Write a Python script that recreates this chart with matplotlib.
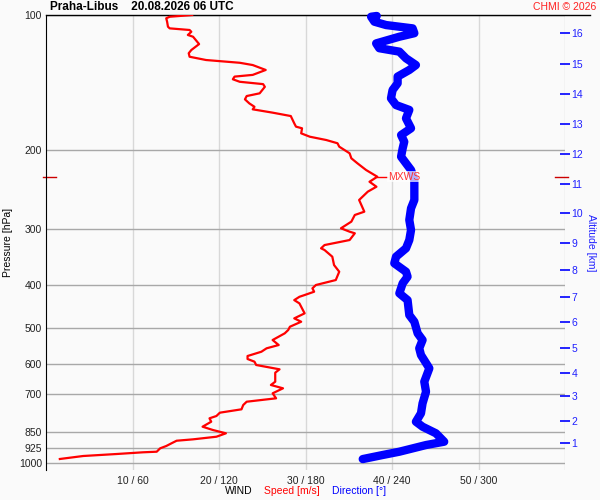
import numpy as np
import matplotlib.pyplot as plt
from matplotlib.lines import Line2D

plt.rcParams['font.family'] = ['Liberation Sans', 'DejaVu Sans']

# wind speed profile [m/s] vs pressure [hPa]
speed_p = [100.0, 100.9, 101.7, 103.5, 106.2, 107.1, 108.0, 109.0, 110.8, 111.8,
           116.1, 119.7, 121.7, 123.9, 126.0, 127.8, 129.3, 132.6, 136.0, 137.2,
           139.1, 140.9, 142.6, 144.6, 149.5, 151.6, 154.2, 157.4, 160.2, 162.3,
           165.1, 168.0, 174.4, 177.4, 178.9, 183.6, 186.8, 190.0, 193.2, 196.6,
           203.4, 208.7, 214.1, 221.6, 229.4, 235.4, 241.5, 247.7, 258.5, 274.5,
           279.2, 288.9, 298.9, 304.2, 306.7, 317.5, 325.8, 331.3, 334.2, 345.9,
           361.0, 373.6, 389.9, 400.0, 406.9, 414.0, 421.1, 424.9, 432.2, 439.6,
           454.9, 462.6, 474.7, 483.0, 495.5, 504.0, 512.6, 530.5, 544.3, 553.6,
           563.4, 575.9, 584.8, 592.9, 603.1, 616.6, 627.4, 657.1, 668.3, 679.8,
           697.5, 715.6, 728.2, 740.7, 757.2, 770.4, 783.7, 793.0, 807.0, 827.9,
           842.1, 856.5, 871.6, 883.4, 889.7, 901.7, 914.2, 925.0, 941.3, 944.2,
           952.4, 962.3, 977.2]
speed = [16.9, 14.3, 13.9, 14.0, 14.1, 14.3, 16.6, 16.8, 16.4, 17.0,
         17.7, 16.8, 16.5, 16.6, 18.5, 22.4, 23.9, 25.4, 23.9, 21.8,
         21.6, 22.4, 25.1, 25.3, 24.7, 23.2, 23.0, 23.5, 24.1, 23.9,
         26.2, 28.3, 28.7, 28.9, 29.6, 29.5, 30.5, 32.4, 33.7, 33.9,
         35.1, 35.3, 36.0, 37.0, 38.3, 37.4, 38.2, 37.2, 36.2, 36.8,
         35.7, 35.3, 34.1, 35.1, 35.7, 35.1, 32.2, 31.8, 32.2, 33.1,
         33.3, 33.9, 33.5, 31.2, 30.8, 31.0, 29.9, 29.3, 28.7, 29.3,
         29.7, 29.9, 28.7, 29.5, 28.2, 28.0, 27.6, 26.2, 26.9, 25.5,
         24.9, 23.3, 23.3, 24.1, 24.3, 27.0, 26.5, 26.5, 26.0, 27.4,
         26.2, 26.6, 23.2, 22.8, 22.6, 20.1, 19.7, 18.9, 19.1, 18.1,
         19.3, 20.8, 19.7, 17.0, 15.1, 14.5, 13.9, 13.2, 12.8, 11.2,
         8.2, 4.3, 1.6]

# wind direction profile [deg] vs pressure [hPa]
dir_p = [100.5, 100.9, 103.5, 105.3, 107.1, 109.8, 111.8, 115.7, 118.6, 120.7,
         124.9, 129.3, 132.6, 137.2, 142.0, 147.0, 153.4, 158.8, 162.8, 170.0,
         178.9, 185.2, 191.7, 198.3, 207.0, 214.1, 221.6, 233.3, 258.5, 269.8,
         286.4, 301.6, 317.5, 331.3, 345.9, 357.8, 373.6, 383.3, 396.5, 417.4,
         432.2, 466.7, 483.0, 512.6, 530.5, 553.6, 573.0, 613.4, 657.1, 691.8,
         734.3, 772.9, 807.0, 827.9, 856.5, 894.2, 909.6, 941.3, 957.4, 977.6]
direction = [229.4, 225.5, 227.8, 235.9, 254.3, 255.5, 245.1, 229.0, 231.2, 245.1,
             249.7, 256.6, 252.0, 243.9, 243.9, 240.4, 239.3, 242.8, 252.0, 249.7,
             253.2, 246.3, 248.5, 247.4, 246.3, 249.7, 253.2, 255.5, 255.5, 253.2,
             252.0, 253.2, 252.0, 249.7, 242.8, 241.6, 249.7, 250.8, 247.4, 245.1,
             250.8, 252.0, 255.5, 257.8, 261.2, 258.9, 260.1, 265.9, 262.4, 263.6,
             261.2, 260.1, 256.6, 261.2, 270.5, 276.2, 263.6, 245.1, 233.5, 219.7]

p_ticks = [100, 200, 300, 400, 500, 600, 700, 850, 925, 1000]
x_ticks = [10, 20, 30, 40, 50]
x_labels = ['10 / 60', '20 / 120', '30 / 180', '40 / 240', '50 / 300']
alt_km = list(range(1, 17))
alt_p = [898.6, 804.3, 707.2, 627.5, 551.8, 484.5, 424.7, 370.3, 322.0, 276.8,
         238.5, 204.5, 175.0, 150.1, 128.8, 109.7]

bg = '#fafafa'
fig = plt.figure(figsize=(6, 5), dpi=100, facecolor=bg)
ax = fig.add_axes([46/600, 30/500, 519/600, 455/500], facecolor=bg)

ax.set_yscale('log')
ax.set_ylim(1034, 100)
ax.set_xlim(0, 60)

for x in [10, 20, 30, 40, 50, 60]:
    ax.axvline(x, color='#d8d8d8', lw=1, zorder=0)
for p in p_ticks:
    ax.axhline(p, color='#a8a8a8', lw=1, zorder=0)

ax.set_yticks(p_ticks)
ax.set_yticklabels([str(p) for p in p_ticks])
ax.yaxis.set_minor_locator(plt.NullLocator())
ax.set_xticks(x_ticks)
ax.set_xticklabels(x_labels)
ax.tick_params(axis='both', length=0, labelsize=7.5, colors='#222222', pad=3)
ax.tick_params(axis='x', pad=4)

for s in ['top', 'right', 'bottom']:
    ax.spines[s].set_visible(False)
ax.spines['left'].set_color('black')
ax.add_line(Line2D([0, 1.048], [1, 1], transform=ax.transAxes, color='black',
                   lw=1.0, clip_on=False))

# direction scaled onto speed axis (60 m/s <-> 360 deg)
ax.plot(np.array(direction) / 6.0, dir_p, color='#0000ff', lw=6,
        solid_capstyle='round', solid_joinstyle='round', zorder=3, clip_on=False)
ax.plot(speed, speed_p, color='#ff0000', lw=1.6, zorder=4)

# max wind
i = int(np.argmax(speed))
mx_s, mx_p = speed[i], speed_p[i]
ax.plot([mx_s, mx_s + 1.1], [mx_p, mx_p], color='#ff0000', lw=1, zorder=4)
ax.text(mx_s + 1.2, mx_p, 'MXWS', color='#ff3333', fontsize=7.5, va='center',
        ha='left', zorder=5,
        bbox=dict(boxstyle='square,pad=0.05', fc='white', ec='none', alpha=0.7))
yt = ax.get_yaxis_transform()
ax.plot([-0.005, 0.02], [mx_p, mx_p], color='#cc0000', lw=1, transform=yt, clip_on=False)
ax.plot([0.98, 1.005], [mx_p, mx_p], color='#cc0000', lw=1, transform=yt, clip_on=False)

ax.set_ylabel('Pressure [hPa]', fontsize=7.5, labelpad=4)

ax2 = ax.twinx()
ax2.set_yscale('log')
ax2.set_ylim(ax.get_ylim())
ax2.set_yticks(alt_p)
ax2.set_yticklabels([str(a) for a in alt_km])
ax2.yaxis.set_minor_locator(plt.NullLocator())
ax2.tick_params(axis='y', direction='inout', length=7, width=1.2, color='#0000ff',
                labelcolor='#2020ff', labelsize=7.5, pad=1)
for s in ax2.spines.values():
    s.set_visible(False)
ax2.set_ylabel('Altitude [km]', color='#2020ff', fontsize=7.5, rotation=270,
               labelpad=9)

fig.text(50/600, 1 - 7/500, 'Praha-Libus    20.08.2026 06 UTC', fontsize=8.5,
         fontweight='bold', va='center', ha='left')
fig.text(596/600, 1 - 7/500, 'CHMI \u00a9 2026', fontsize=7.5, color='#ff2020',
         va='center', ha='right')

fig.text(253/600, 1 - 491/500, 'WIND', fontsize=7.5, ha='right', va='center')
fig.text(264/600, 1 - 491/500, 'Speed [m/s]', fontsize=7.5, color='#ff0000',
         ha='left', va='center')
fig.text(332/600, 1 - 491/500, 'Direction [\u00b0]', fontsize=7.5, color='#0000ff',
         ha='left', va='center')

fig.savefig('out.png', dpi=100, facecolor=bg)
